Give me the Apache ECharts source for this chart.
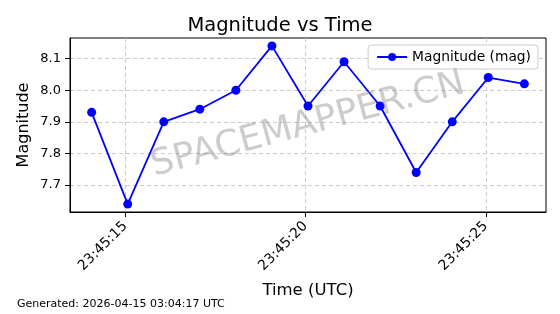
<!DOCTYPE html>
<html><head><meta charset="utf-8">
<script src="https://cdn.jsdelivr.net/npm/echarts@6/dist/echarts.min.js"></script>
<style>html,body{margin:0;padding:0;background:#fff}#c{width:560px;height:314px}</style>
</head><body><div id="c"></div>
<script>
// seconds after 23:45:00 UTC
var timeSeconds = [14.07, 15.07, 16.07, 17.07, 18.07, 19.07, 20.07, 21.07, 22.07, 23.07, 24.07, 25.07, 26.07];
var magnitudes = [7.93, 7.64, 7.90, 7.94, 8.00, 8.14, 7.95, 8.09, 7.95, 7.74, 7.90, 8.04, 8.02];
var xTickValues = [15, 20, 25];
var xTickLabels = ['23:45:15', '23:45:20', '23:45:25'];
var yTickValues = [7.7, 7.8, 7.9, 8.0, 8.1];

var chart = echarts.init(document.getElementById('c'), null, {renderer: 'canvas'});
var font = 'DejaVu Sans';
var data = timeSeconds.map(function (t, i) { return [t, magnitudes[i]]; });
var xmin = 13.47, xmax = 26.67, ymin = 7.615, ymax = 8.165;

chart.setOption({
  animation: false,
  backgroundColor: '#fff',
  textStyle: {fontFamily: font},
  title: {
    text: 'Magnitude vs Time', left: 'center', top: 11,
    textStyle: {fontFamily: font, fontSize: 19.5, fontWeight: 'normal', color: '#000'}
  },
  legend: {
    right: 22, top: 45, padding: [5, 7, 5, 8],
    backgroundColor: 'rgba(255,255,255,0.85)', borderColor: '#ccc', borderWidth: 1, borderRadius: 3,
    itemWidth: 30, itemHeight: 10, itemGap: 6,
    textStyle: {fontFamily: font, fontSize: 13.8, color: '#000'},
    data: ['Magnitude (mag)']
  },
  grid: {left: 70, right: 14, top: 38, bottom: 102, show: true, borderColor: '#000', borderWidth: 1, containLabel: false},
  xAxis: {
    type: 'value', min: xmin, max: xmax,
    name: 'Time (UTC)', nameLocation: 'middle', nameGap: 70,
    nameTextStyle: {fontFamily: font, fontSize: 16.5, color: '#000'},
    axisLine: {show: true, lineStyle: {color: '#000'}},
    axisTick: {show: true, length: 5, lineStyle: {color: '#000'}, customValues: xTickValues},
    axisLabel: {
      customValues: xTickValues, rotate: 45, fontFamily: font, fontSize: 14, color: '#000', margin: 12,
      formatter: function (v) { var i = xTickValues.indexOf(Math.round(v)); return i >= 0 ? xTickLabels[i] : ''; }
    },
    splitLine: {show: true, lineStyle: {color: '#cccccc', type: [4, 3], width: 1}}
  },
  yAxis: {
    type: 'value', min: ymin, max: ymax,
    name: 'Magnitude', nameLocation: 'middle', nameGap: 38, nameRotate: 90, nameMoveOverlap: false,
    nameTextStyle: {fontFamily: font, fontSize: 16, color: '#000'},
    axisLine: {show: true, lineStyle: {color: '#000'}},
    axisTick: {show: true, length: 5, lineStyle: {color: '#000'}, customValues: yTickValues},
    axisLabel: {customValues: yTickValues, fontFamily: font, fontSize: 13, color: '#000', margin: 9,
      formatter: function (v) { return v.toFixed(1); }},
    splitLine: {show: true, lineStyle: {color: '#cccccc', type: [4, 3], width: 1}}
  },
  graphic: [
    {type: 'text', left: 17, top: 299, style: {text: 'Generated: 2026-04-15 03:04:17 UTC', fontFamily: font, fontSize: 11, fill: '#000'}},
    {type: 'text', x: 308, y: 125, rotation: 15 * Math.PI / 180, z: 100,
      style: {text: 'SPACEMAPPER.CN', fontFamily: font, fontSize: 36, fill: 'rgba(128,128,128,0.4)', align: 'center', verticalAlign: 'middle'}}
  ],
  series: [{
    name: 'Magnitude (mag)', type: 'line', data: data,
    symbol: 'circle', symbolSize: 9,
    lineStyle: {color: '#0000ff', width: 1.8},
    itemStyle: {color: '#0000ff'},
    z: 3
  }]
});
</script></body></html>
